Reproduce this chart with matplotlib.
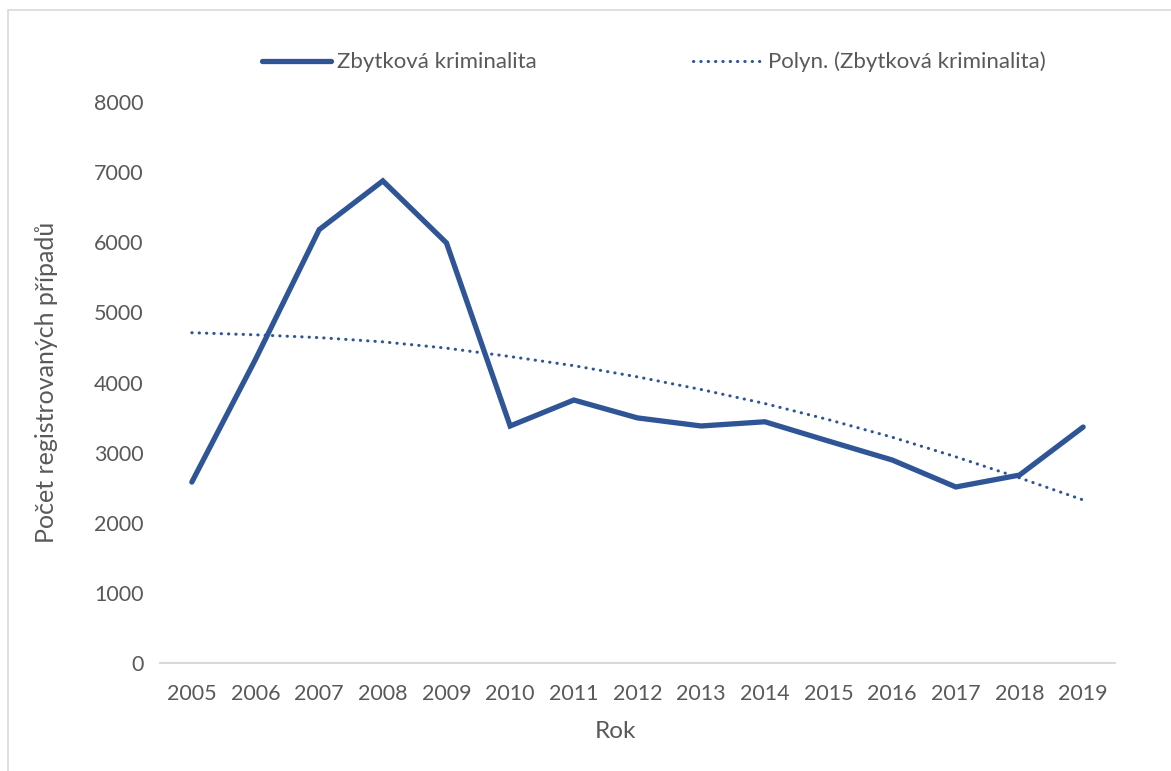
import matplotlib
matplotlib.use("Agg")
import matplotlib.pyplot as plt
from matplotlib.patches import Rectangle

# data
years = [2005, 2006, 2007, 2008, 2009, 2010, 2011, 2012, 2013, 2014, 2015, 2016, 2017, 2018, 2019]
kriminalita = [2580, 4330, 6180, 6875, 5990, 3380, 3750, 3495, 3380, 3440, 3165, 2895, 2510, 2680, 3365]
trend = [4710, 4680, 4640, 4580, 4490, 4370, 4240, 4080, 3900, 3700, 3470, 3220, 2940, 2640, 2325]

blue = '#2F5597'
text_col = '#595959'
grid_col = '#D9D9D9'

plt.rcParams['font.family'] = ['Lato', 'DejaVu Sans']
plt.rcParams['font.size'] = 15

W, H = 1171, 771
fig = plt.figure(figsize=(W / 100, H / 100), dpi=100)
ax = fig.add_axes([160 / W, 1 - 663 / H, (1115 - 160) / W, (663 - 102) / H])

# outer chart border (partly cut off at right / bottom like the reference)
fig.patches.append(Rectangle((8 / W, -0.1), 1.2, 1 - 10 / H + 0.1, transform=fig.transFigure,
                             fill=False, edgecolor=grid_col, linewidth=1.2))

ax.plot(years, kriminalita, color=blue, linewidth=3.8, solid_joinstyle='miter',
        solid_capstyle='round', label='Zbytková kriminalita')
ax.plot(years, trend, color=blue, linewidth=2.2, linestyle=(0, (0.1, 2.3)),
        dash_capstyle='round', label='Polyn. (Zbytková kriminalita)')

ax.set_xlim(2004.5, 2019.5)
ax.set_ylim(0, 8000)
ax.set_xticks(years)
ax.set_xticklabels([str(y) for y in years])
ax.set_yticks(range(0, 8001, 1000))

for s in ['top', 'right', 'left']:
    ax.spines[s].set_visible(False)
ax.spines['bottom'].set_color(grid_col)
ax.spines['bottom'].set_linewidth(1.5)
ax.tick_params(axis='both', length=0, colors=text_col, labelsize=15.5)
ax.tick_params(axis='x', pad=15)
ax.tick_params(axis='y', pad=12)

ax.set_ylabel('Počet registrovaných případů', color=text_col, fontsize=18, va='center')
ax.yaxis.set_label_coords((47 - 160) / (1115 - 160), 0.5)
ax.set_xlabel('Rok', color=text_col, fontsize=17.5, va='center')
ax.xaxis.set_label_coords((615 - 160) / (1115 - 160), -(732 - 663) / (663 - 102))

leg = fig.legend(loc='center', bbox_to_anchor=(654 / W, 1 - 62 / H), ncol=2, frameon=False,
                 handlelength=3.1, handletextpad=0.3, columnspacing=7.0, fontsize=16)
for t in leg.get_texts():
    t.set_color(text_col)

fig.savefig('out.png', dpi=100)
